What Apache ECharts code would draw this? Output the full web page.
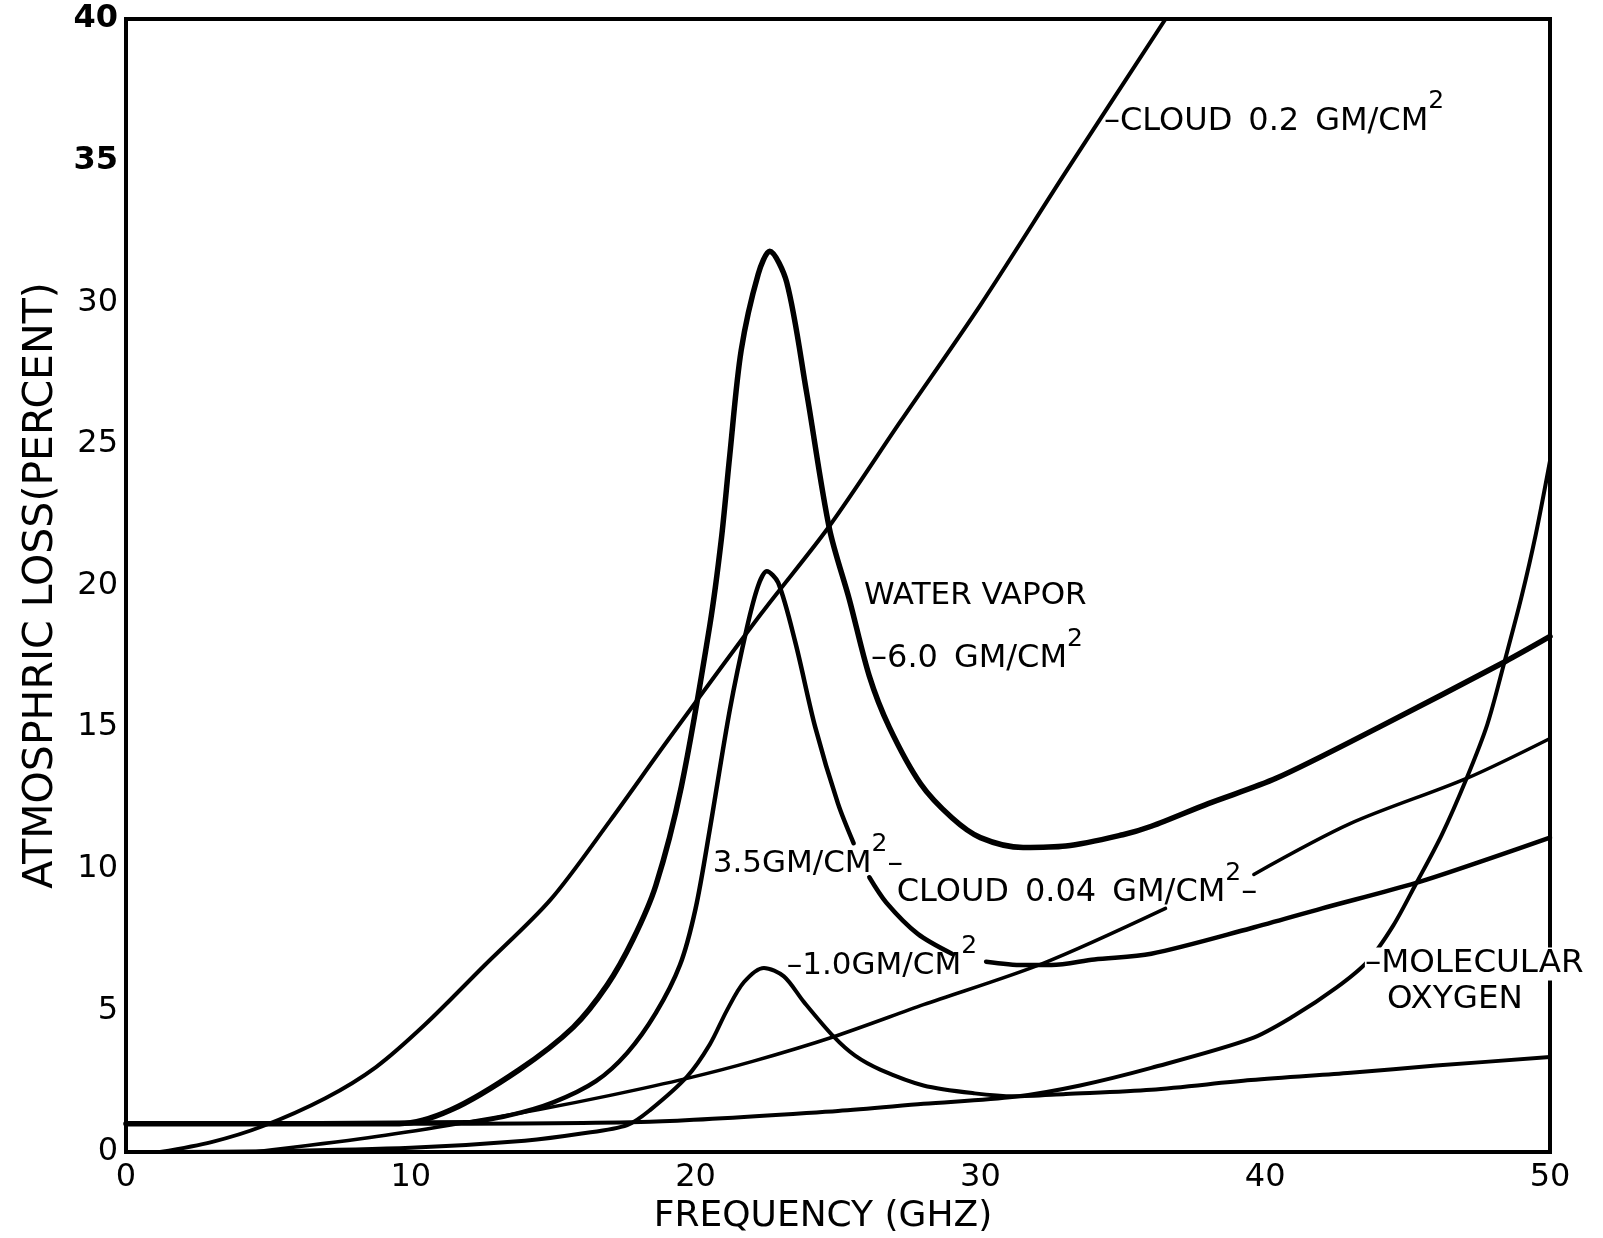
<!DOCTYPE html>
<html>
<head>
<meta charset="utf-8">
<script src="https://cdn.jsdelivr.net/npm/echarts/dist/echarts.min.js"></script>
<style>
  html, body { margin: 0; padding: 0; background: #fff; }
  #chart { width: 1603px; height: 1238px; }
</style>
</head>
<body>
<div id="chart"></div>
<script>
// Atmospheric loss (percent) against frequency (GHz).
// Each curve: a frequency list and the matching loss list (null = pen lifted for a label).

const xTicks = [0, 10, 20, 30, 40, 50];
const yTicks = [0, 5, 10, 15, 20, 25, 30, 35, 40];

// Water vapour, 6.0 gm/cm^2
const vapor6Freq = [0, 5, 9.6, 11.4, 13.8, 15.7, 16.9, 17.8, 18.6, 19.5, 20.5, 20.9, 21.2, 21.6, 22.2, 22.6, 23.2, 23.9, 24.7, 25.4, 26.1, 26.8, 27.9, 29, 30, 31.5, 33, 35, 36, 38, 40.4, 44, 48.4, 50];
const vapor6Loss = [1.0, 1.0, 1.0, 1.48, 2.9, 4.4, 5.9, 7.5, 9.4, 12.9, 18.6, 21.6, 24.6, 28.3, 31.0, 31.8, 30.7, 26.8, 22.0, 19.5, 16.8, 15.0, 13.0, 11.8, 11.1, 10.75, 10.8, 11.2, 11.5, 12.3, 13.2, 15.0, 17.3, 18.2];

// Water vapour, 3.5 gm/cm^2
const vapor35Freq = [0, 12, 13.5, 15, 16.5, 17.6, 18.6, 19.45, 20.0, 20.5, 21.2, 21.8, 22.2, 22.5, 22.9, 23.5, 24.2, 25.0, 25.55, 25.8, 26.1, 26.7, 27.8, 29.0, 29.6, 30.2, 31.5, 32.5, 34, 36, 39.5, 42, 45.3, 48, 50];
const vapor35Loss = [1.0, 1.05, 1.3, 1.75, 2.5, 3.5, 4.9, 6.6, 8.6, 11.4, 15.6, 18.5, 20.0, 20.5, 20.1, 18.0, 15.0, 12.3, 10.9, null, 9.7, 8.8, 7.7, 7.0, null, 6.72, 6.6, 6.6, 6.8, 7.0, 7.9, 8.6, 9.5, 10.4, 11.1];

// Water vapour, 1.0 gm/cm^2
const vapor1Freq = [1.2, 5, 10, 14, 16, 17.6, 18.4, 19.7, 20.5, 21.1, 21.7, 22.4, 23.1, 23.8, 24.85, 25.6, 26.5, 28, 29.8, 31.2, 33, 36, 39.5, 43, 46, 50];
const vapor1Loss = [0, 0.03, 0.15, 0.4, 0.65, 0.95, 1.48, 2.66, 3.8, 5.0, 6.0, 6.5, 6.2, 5.3, 4.07, 3.4, 2.9, 2.35, 2.07, 1.97, 2.05, 2.2, 2.54, 2.8, 3.05, 3.35];

// Cloud, 0.2 gm/cm^2
const cloud02Freq = [1.2, 3, 4.77, 7, 8.78, 10.5, 12.54, 14.9, 17, 19, 22.3, 24.7, 27.2, 30, 33, 36.5];
const cloud02Loss = [0, 0.35, 0.9, 1.9, 3.0, 4.5, 6.54, 8.9, 11.7, 14.5, 19.0, 22.1, 25.8, 29.9, 34.6, 40];

// Cloud, 0.04 gm/cm^2
const cloud004Freq = [4.5, 8.5, 11.4, 14.5, 17, 19.7, 22, 24.85, 28, 32.2, 36.5, 38, 39.6, 43, 47.07, 50];
const cloud004Loss = [0, 0.5, 0.95, 1.5, 2.0, 2.6, 3.2, 4.07, 5.2, 6.66, 8.6, null, 9.8, 11.6, 13.19, 14.6];

// Molecular oxygen
const oxygenFreq = [0, 10, 18.4, 25, 28, 31.2, 33.5, 36, 39.5, 41, 42.5, 43.6, 44.5, 45.3, 46.2, 47.07, 47.8, 48.4, 49, 49.5, 50];
const oxygenLoss = [1.0, 1.0, 1.07, 1.45, 1.7, 1.95, 2.35, 2.97, 4.0, 4.8, 5.8, 6.73, 8.0, 9.48, 11.2, 13.19, 15.1, 17.3, 19.6, 21.8, 24.4];

const FONT = '"DejaVu Sans", sans-serif';
const SP = '\u2002'; // wide word space used in the curve notes

function pairs(xs, ys) {
  return xs.map((x, i) => [x, ys[i]]);
}

function curve(name, xs, ys, width) {
  return {
    name: name,
    type: 'line',
    data: pairs(xs, ys),
    symbol: 'none',
    showSymbol: false,
    smooth: 0.3,
    connectNulls: false,
    clip: true,
    silent: true,
    animation: false,
    lineStyle: { color: '#000', width: width, cap: 'round', join: 'round' }
  };
}

const chart = echarts.init(document.getElementById('chart'), null, { renderer: 'canvas' });

chart.setOption({
  animation: false,
  backgroundColor: '#fff',
  grid: {
    left: 126, right: 53, top: 19, bottom: 86,
    show: true, borderColor: '#000', borderWidth: 4, backgroundColor: 'transparent',
    containLabel: false, outerBoundsMode: 'none'
  },
  xAxis: {
    type: 'value', min: 0, max: 50, interval: 10,
    name: 'FREQUENCY (GHZ)', nameLocation: 'middle', nameGap: 44,
    nameTextStyle: { fontFamily: FONT, fontSize: 36, color: '#000', padding: [0, 30, 0, 0] },
    axisLine: { show: false }, axisTick: { show: false }, splitLine: { show: false },
    axisLabel: {
      show: true, margin: 10, color: '#000', fontFamily: FONT, fontSize: 32,
      formatter: v => xTicks.includes(v) ? String(v) : ''
    }
  },
  yAxis: {
    type: 'value', min: 0, max: 40, interval: 5,
    name: 'ATMOSPHRIC LOSS(PERCENT)', nameLocation: 'middle', nameRotate: 90, nameGap: 64,
    nameTextStyle: { fontFamily: FONT, fontSize: 41, color: '#000' },
    axisLine: { show: false }, axisTick: { show: false }, splitLine: { show: false },
    axisLabel: {
      show: true, margin: 8, color: '#000', fontFamily: FONT, fontSize: 32,
      formatter: v => yTicks.includes(v) ? (v >= 35 ? '{b|' + v + '}' : '{n|' + v + '}') : '',
      rich: {
        b: { fontFamily: FONT, fontSize: 32, fontWeight: 'bold', color: '#000' },
        n: { fontFamily: FONT, fontSize: 32, color: '#000' }
      }
    }
  },
  series: [
    curve('Cloud 0.2 gm/cm2', cloud02Freq, cloud02Loss, 4),
    curve('Cloud 0.04 gm/cm2', cloud004Freq, cloud004Loss, 3.5),
    curve('Molecular oxygen', oxygenFreq, oxygenLoss, 4),
    curve('Water vapor 1.0 gm/cm2', vapor1Freq, vapor1Loss, 4),
    curve('Water vapor 3.5 gm/cm2', vapor35Freq, vapor35Loss, 4.5),
    curve('Water vapor 6.0 gm/cm2', vapor6Freq, vapor6Loss, 5.5)
  ]
});

// Curve annotations, anchored at (frequency, loss) of their left edge.
const notes = [
  { text: '{w|–CLOUD' + SP + '0.2' + SP + 'GM/CM}{s|2}', at: [34.34, 36.39] },
  { text: '{t|WATER VAPOR}', at: [25.91, 19.63] },
  { text: '{w|–6.0' + SP + 'GM/CM}{s|2}', at: [26.16, 17.40] },
  { text: '{t|3.5GM/CM}{s|2}{t|–}', at: [20.6, 10.17] },
  { text: '{w|CLOUD' + SP + '0.04' + SP + 'GM/CM}{s|2}{w|–}', at: [27.06, 9.16] },
  { text: '{t|–1.0GM/CM}{s|2}', at: [23.2, 6.57] },
  { text: '{p|–MOLECULAR}', at: [43.5, 6.64], bg: true },
  { text: '{p|OXYGEN}', at: [44.28, 5.37], bg: true }
];

const richStyle = {
  t: { fontFamily: FONT, fontSize: 31, lineHeight: 64, color: '#000', verticalAlign: 'middle' },
  w: { fontFamily: FONT, fontSize: 32, lineHeight: 64, color: '#000', verticalAlign: 'middle' },
  s: { fontFamily: FONT, fontSize: 25, lineHeight: 25, color: '#000', verticalAlign: 'top' },
  p: { fontFamily: FONT, fontSize: 32.5, lineHeight: 33, color: '#000' }
};

function placeNotes() {
  const elements = notes.map(n => {
    const p = chart.convertToPixel({ gridIndex: 0 }, n.at);
    return {
      type: 'text',
      x: p[0], y: p[1], z: 100,
      silent: true,
      style: {
        text: n.text,
        rich: richStyle,
        align: 'left',
        verticalAlign: 'middle',
        backgroundColor: n.bg ? '#fff' : 'transparent',
        padding: n.bg ? [0, 2, 0, 0] : 0
      }
    };
  });
  chart.setOption({ graphic: { elements: elements } });
}
placeNotes();
</script>
</body>
</html>
